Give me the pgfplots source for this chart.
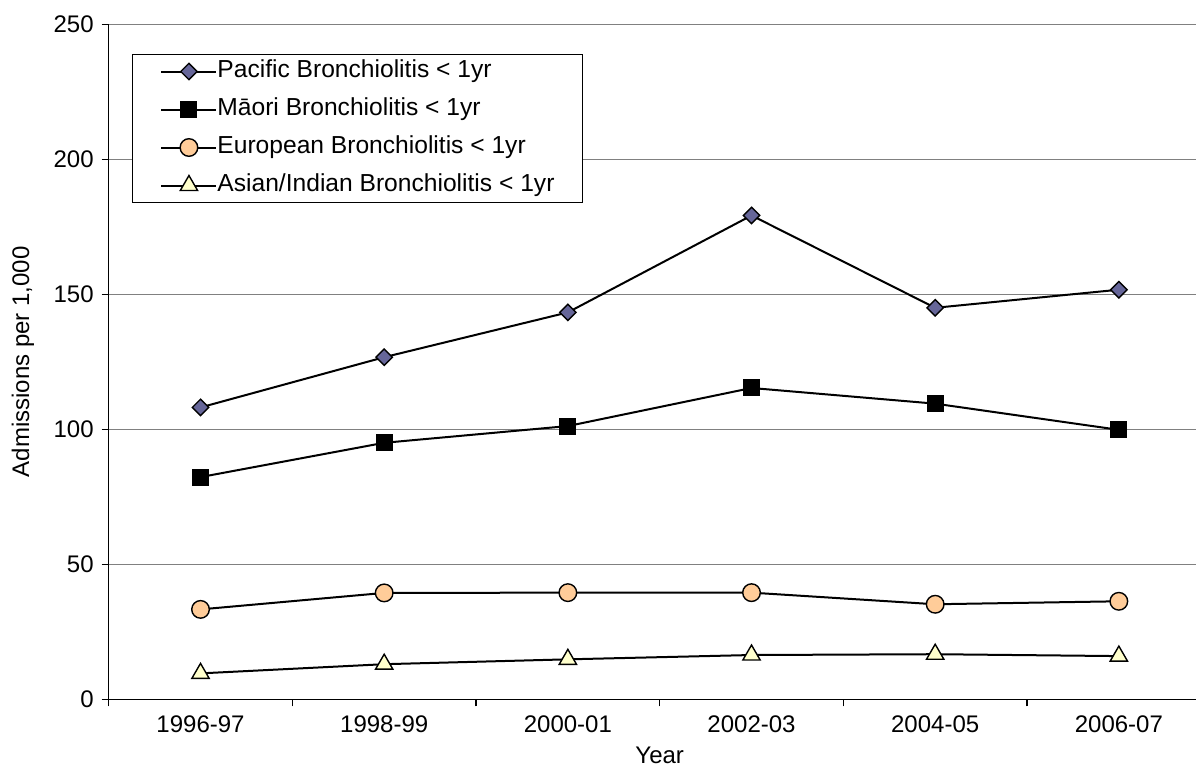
\documentclass[border=0pt]{standalone}
\usepackage{fontspec}
\setmainfont{Liberation Sans}
\usepackage{pgfplots}
\pgfplotsset{compat=1.18}
\definecolor{pacific}{RGB}{102,102,153}
\definecolor{euro}{RGB}{255,204,153}
\definecolor{asian}{RGB}{255,255,204}
\definecolor{gridgray}{RGB}{128,128,128}
\begin{document}
\begin{tikzpicture}
\path[use as bounding box] (0,0) rectangle (598pt,383.5pt);
\begin{axis}[
  at={(54.35pt,33.85pt)}, anchor=south west,
  scale only axis, width=551pt, height=337.5pt,
  xmin=-0.5, xmax=5.5, ymin=0, ymax=250,
  axis lines=left, axis line style={-, line width=0.6pt},
  clip=false,
  /pgf/number format/assume math mode=true,
  xtick={0,1,2,3,4,5},
  xticklabels={1996-97,1998-99,2000-01,2002-03,2004-05,2006-07},
  major x tick style={draw=none},
  minor xtick={-0.5,0.5,1.5,2.5,3.5,4.5},
  minor x tick style={line width=0.6pt, black},
  minor tick length=3.5pt,
  ytick={0,50,100,150,200,250},
  major y tick style={line width=0.6pt, black},
  major tick length=3.5pt,
  tick align=outside,
  ymajorgrids, grid style={gridgray, line width=0.5pt},
  xticklabel style={font=\fontsize{12}{14}\selectfont, yshift=-1pt},
  yticklabel style={font=\fontsize{12}{14}\selectfont, xshift=-0.5pt},
  xlabel={Year},
  xlabel style={font=\fontsize{12}{14}\selectfont, at={(axis description cs:0.5,0)}, anchor=center, yshift=-27.8pt, inner sep=0pt},
  ylabel={Admissions per 1,000},
  ylabel style={font=\fontsize{12}{14}\selectfont, at={(axis description cs:-0.0778,0.5)}, anchor=center},
  legend style={at={(0.0211,0.956)}, anchor=north west, draw=black, line width=0.5pt,
    fill=white, inner xsep=14pt, inner ysep=0.5pt, row sep=3pt,
    nodes={inner xsep=0pt, inner ysep=2pt, text height=9pt, text depth=3pt},
    /tikz/every even column/.append style={column sep=3.5pt},
    font=\fontsize{12.3}{14}\selectfont},
  legend cell align=left,
  legend image code/.code={
    \draw[line width=1pt, black, mark repeat=2, mark phase=2] plot coordinates {(0pt,0pt) (13.75pt,0pt) (27.5pt,0pt)};
  },
  every axis plot/.append style={line width=1pt, black},
]
\addplot[mark=square*, mark size=2.9pt, mark options={rotate=45, fill=pacific, draw=black, line width=0.7pt}]
  coordinates {(0,108.1) (1,126.7) (2,143.3) (3,179.2) (4,145.0) (5,151.7)};
\addlegendentry{Pacific Bronchiolitis < 1yr}
\addplot[mark=square*, mark size=3.9pt, mark options={fill=black, draw=black, line width=0.7pt}]
  coordinates {(0,82.3) (1,95.0) (2,101.2) (3,115.3) (4,109.5) (5,99.8)};
\addlegendentry{Māori Bronchiolitis < 1yr}
\addplot[mark=*, mark size=4.4pt, mark options={fill=euro, draw=black, line width=0.7pt}]
  coordinates {(0,33.3) (1,39.4) (2,39.5) (3,39.5) (4,35.2) (5,36.3)};
\addlegendentry{European Bronchiolitis < 1yr}
\addplot[mark=triangle*, mark size=5pt, mark options={fill=asian, draw=black, line width=0.7pt}]
  coordinates {(0,9.6) (1,13.0) (2,14.8) (3,16.4) (4,16.7) (5,16.0)};
\addlegendentry{Asian/Indian Bronchiolitis < 1yr}
\end{axis}
\end{tikzpicture}
\end{document}
